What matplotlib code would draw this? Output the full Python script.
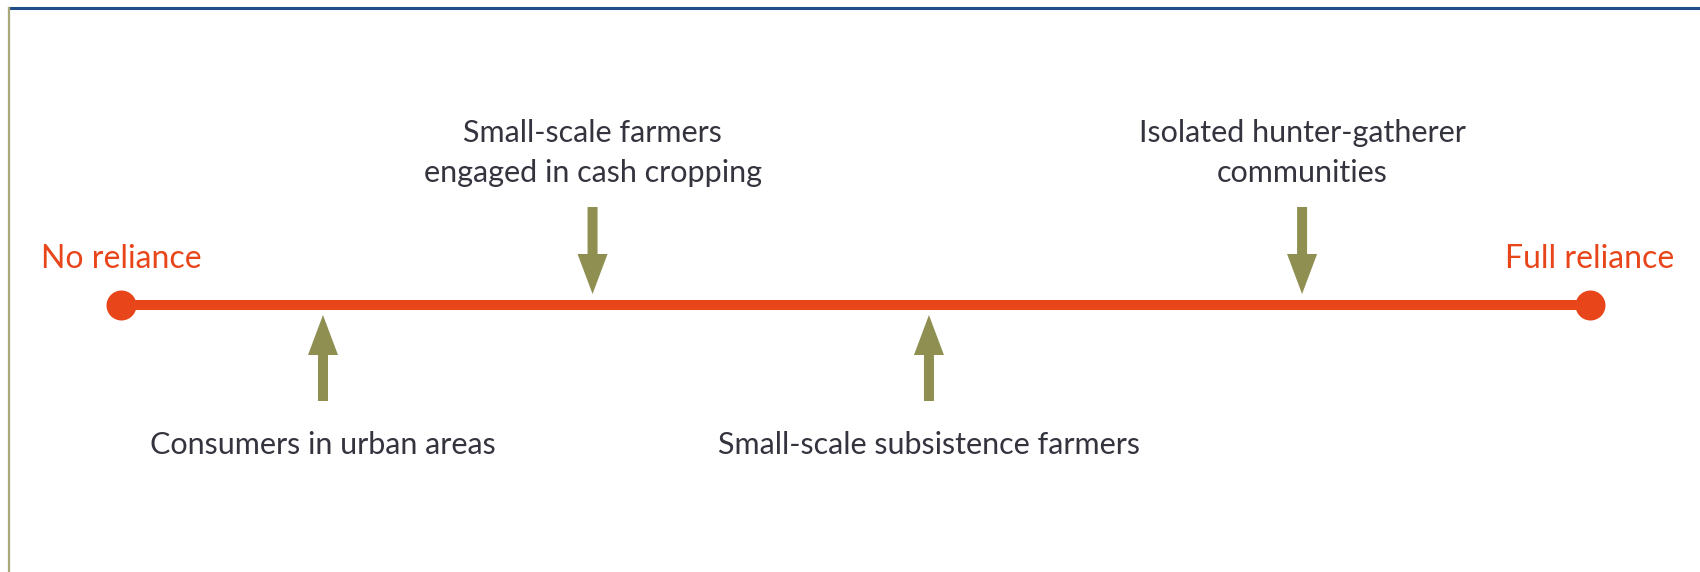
import matplotlib
matplotlib.use("Agg")
import matplotlib.pyplot as plt
from matplotlib.lines import Line2D

plt.rcParams['font.family'] = ['Lato', 'DejaVu Sans']

# Data: position of each group on the reliance scale (0 = none, 1 = full)
groups = ["Consumers in urban areas",
          "Small-scale farmers\nengaged in cash cropping",
          "Small-scale subsistence farmers",
          "Isolated hunter-gatherer\ncommunities"]
reliance = [0.1375, 0.321, 0.55, 0.804]
side = ["below", "above", "below", "above"]
end_labels = ["No reliance", "Full reliance"]
end_values = [0.0, 1.0]

line_col = "#E8461A"
arrow_col = "#8E8F50"
text_col = "#34343F"

W, H = 1700, 572
fig = plt.figure(figsize=(W / 100, H / 100), dpi=100)
ax = fig.add_axes([0, 0, 1, 1])
# scale: 0 -> 121 px, 1 -> 1590 px
span = 1590 - 121
ax.set_xlim(-121 / span, (W - 121) / span)
ax.set_ylim(H, 0)
ax.axis("off")

line_y = 305

# main scale line with end dots
ax.plot(end_values, [line_y, line_y], color=line_col, lw=7.2, solid_capstyle="butt", zorder=2)
ax.scatter(end_values, [line_y, line_y], s=(30 * 0.72) ** 2, color=line_col, zorder=3, linewidths=0)
for lab, v in zip(end_labels, end_values):
    ax.text(v, 259, lab, ha="center", va="center", fontsize=23, color=line_col)

arrow_style = "simple,head_length=%.2f,head_width=%.2f,tail_width=%.2f" % (40, 30, 10)
for g, r, s in zip(groups, reliance, side):
    if s == "above":
        ax.annotate("", xy=(r, 294), xytext=(r, 207),
                    arrowprops=dict(arrowstyle=arrow_style, mutation_scale=0.72,
                                    color=arrow_col, lw=0, shrinkA=0, shrinkB=0))
        ax.text(r, 153, g, ha="center", va="center", fontsize=22, color=text_col,
                linespacing=1.5)
    else:
        ax.annotate("", xy=(r, 315), xytext=(r, 401),
                    arrowprops=dict(arrowstyle=arrow_style, mutation_scale=0.72,
                                    color=arrow_col, lw=0, shrinkA=0, shrinkB=0))
        ax.text(r, 445, g, ha="center", va="center", fontsize=22, color=text_col)

# frame: blue top rule, olive left rule
fig.add_artist(Line2D([9 / W, 1], [1 - 8 / H, 1 - 8 / H], color="#1F4E8C", lw=2.2,
                      transform=fig.transFigure))
fig.add_artist(Line2D([9 / W, 9 / W], [0, 1 - 8 / H], color="#A9A879", lw=1.6,
                      transform=fig.transFigure))

fig.savefig("out.png", dpi=100, facecolor="white")
